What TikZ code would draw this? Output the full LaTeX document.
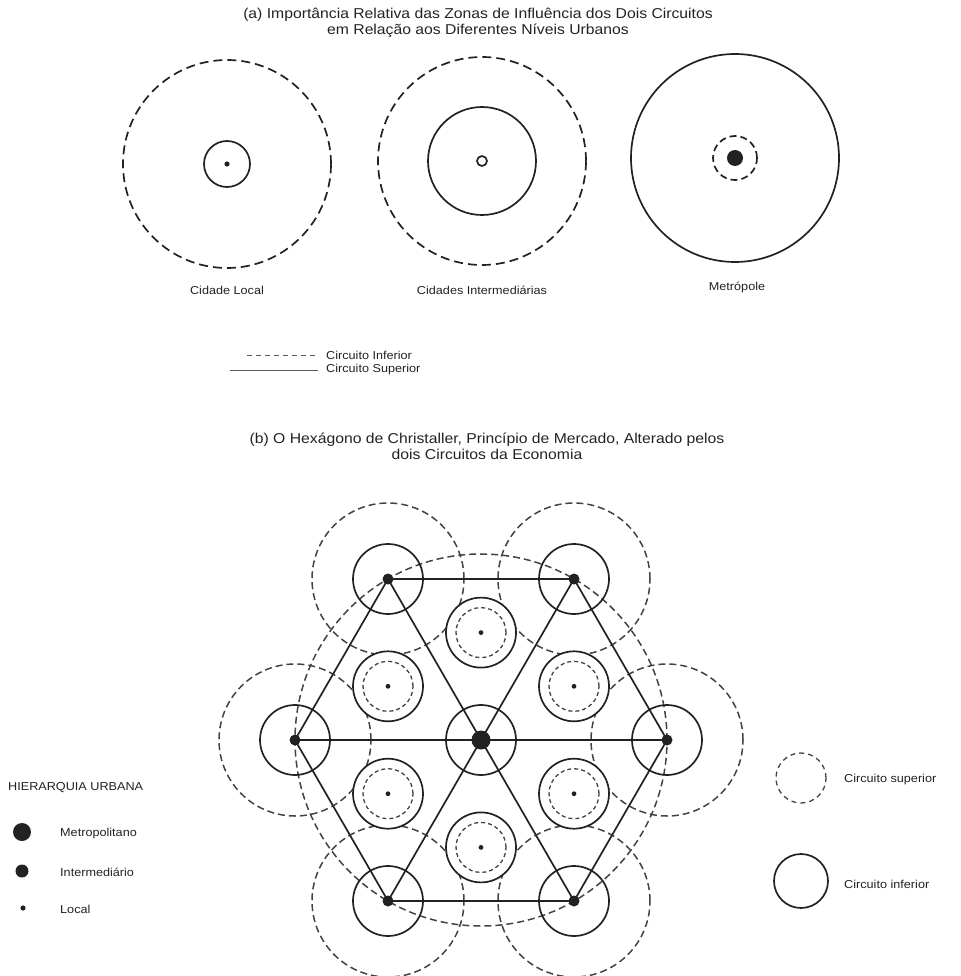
\documentclass[tikz,border=0pt]{standalone}
\usepackage{fontspec}
\setmainfont{Liberation Sans}[FakeStretch=1.1]
\definecolor{ink}{HTML}{222222}
\begin{document}
\begin{tikzpicture}[x=1pt,y=-1pt,
  sol/.style={draw=ink, line width=1.7pt},
  dshA/.style={draw=ink, line width=1.7pt, dash pattern=on 9pt off 5pt},
  dshB/.style={draw=ink!85, line width=1.5pt, dash pattern=on 7pt off 4pt},
  dshS/.style={draw=ink!85, line width=1.3pt, dash pattern=on 4pt off 3pt},
  ttl/.style={font=\fontsize{14.3}{16}\selectfont, text=ink, align=center, inner sep=0pt},
  lbl/.style={font=\fontsize{11.5}{13}\selectfont, text=ink, inner sep=0pt},
  lblw/.style={lbl, anchor=west}]
\useasboundingbox (0,0) rectangle (960,976);
% ---------- (a) ----------
\node[ttl] (ta) at (478,23) {(a) Importância Relativa das Zonas de Influência dos Dois Circuitos\\em Relação aos Diferentes Níveis Urbanos};
\coordinate (lc) at (227,164);
\coordinate (ic) at (482,161);
\coordinate (mc) at (735,158);
\draw[dshA] (lc) circle[radius=104pt];
\draw[sol] (lc) circle[radius=23pt];
\fill[ink] (lc) circle[radius=2.6pt];
\draw[dshA] (ic) circle[radius=104pt];
\draw[sol] (ic) circle[radius=54pt];
\draw[sol] (ic) circle[radius=5pt];
\draw[sol] (mc) circle[radius=104pt];
\draw[dshA, dash pattern=on 7pt off 4pt] (mc) circle[radius=22pt];
\fill[ink] (mc) circle[radius=8pt];
\node[lbl] (llc) at (227,290) {Cidade Local};
\node[lbl] (lic) at (482,290) {Cidades Intermediárias};
\node[lbl] (lmc) at (737,287) {Metrópole};
% legend (a)
\coordinate (da1) at (247,355);
\coordinate (da2) at (318,355);
\coordinate (sa1) at (230,370);
\coordinate (sa2) at (318,370);
\draw[draw=ink!75, line width=0.9pt, dash pattern=on 5pt off 4pt] (da1) -- (da2);
\draw[draw=ink!75, line width=0.9pt] (sa1) -- (sa2);
\node[lblw] (tda) at (326,355) {Circuito Inferior};
\node[lblw] (tsa) at (326,370) {Circuito Superior};
% ---------- (b) ----------
\node[ttl] (tb) at (487,446) {(b) O Hexágono de Christaller, Princípio de Mercado, Alterado pelos\\dois Circuitos da Economia};
\coordinate (C) at (481,740);
\coordinate (I1) at (388,579);
\coordinate (I2) at (574,579);
\coordinate (I3) at (667,740);
\coordinate (I4) at (574,901);
\coordinate (I5) at (388,901);
\coordinate (I6) at (295,740);
\coordinate (L1) at (481,632.6);
\coordinate (L2) at (574,686.3);
\coordinate (L3) at (574,793.7);
\coordinate (L4) at (481,847.4);
\coordinate (L5) at (388,793.7);
\coordinate (L6) at (388,686.3);
% dashed zones
\draw[dshB] (C) circle[radius=186pt];
\foreach \n in {I1,I2,I3,I4,I5,I6} { \draw[dshB] (\n) circle[radius=76pt]; }
% network
\draw[sol] (I1) -- (I2) -- (I3) -- (I4) -- (I5) -- (I6) -- cycle;
\draw[sol] (I1) -- (I4);
\draw[sol] (I2) -- (I5);
\draw[sol] (I3) -- (I6);
% solid zones
\foreach \n in {I1,I2,I3,I4,I5,I6,C} { \draw[sol] (\n) circle[radius=35pt]; }
\foreach \n in {L1,L2,L3,L4,L5,L6} {
  \filldraw[fill=white, sol] (\n) circle[radius=35pt];
  \draw[dshS] (\n) circle[radius=25pt];
  \fill[ink] (\n) circle[radius=2.4pt];
}
\foreach \n in {I1,I2,I3,I4,I5,I6} { \fill[ink] (\n) circle[radius=5.5pt]; }
\fill[ink] (C) circle[radius=9.5pt];
% legend right
\coordinate (rs) at (801,778);
\coordinate (ri) at (801,881);
\draw[dshS, line width=1.3pt, dash pattern=on 5pt off 4pt] (rs) circle[radius=25pt];
\draw[sol] (ri) circle[radius=27pt];
\node[lblw] (trs) at (844,780) {Circuito superior};
\node[lblw] (tri) at (844,884) {Circuito inferior};
% hierarchy legend
\node[lblw] (th) at (8,788) {HIERARQUIA URBANA};
\coordinate (hm) at (22,832);
\coordinate (hi) at (22,871);
\coordinate (hl) at (23,908);
\fill[ink] (hm) circle[radius=9pt];
\fill[ink] (hi) circle[radius=6.5pt];
\fill[ink] (hl) circle[radius=2.6pt];
\node[lblw] (thm) at (60,834) {Metropolitano};
\node[lblw] (thi) at (60,872) {Intermediário};
\node[lblw] (thl) at (60,909) {Local};
\end{tikzpicture}
\end{document}
